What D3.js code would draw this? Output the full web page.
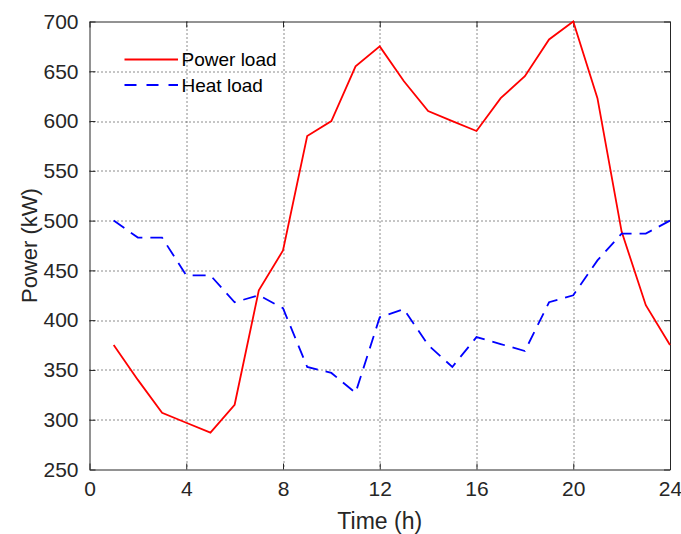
<!DOCTYPE html>
<html>
<head>
<meta charset="utf-8">
<script src="https://cdn.jsdelivr.net/npm/d3@7"></script>
<style>
  html, body { margin: 0; padding: 0; background: #fff; }
  svg { display: block; font-family: "Liberation Sans", Arial, Helvetica, sans-serif; }
</style>
</head>
<body>
<svg id="chart" width="681" height="534"></svg>
<script>
// Hourly load profiles (kW)
const hours = d3.range(1, 25);
const powerLoad = [375, 340, 307, 297, 287, 315, 430, 470, 585, 600, 655, 675,
                   640, 610, 600, 590, 623, 645, 682, 700, 623, 489, 415, 375];
const heatLoad  = [500, 483, 483, 445, 445, 418, 425, 412, 353, 347, 327, 403,
                   411, 375, 353, 383, 376, 369, 418, 425, 460, 487, 487, 500];
const xTicks = [0, 4, 8, 12, 16, 20, 24];
const yTicks = [250, 300, 350, 400, 450, 500, 550, 600, 650, 700];
const seriesNames = ["Power load", "Heat load"];

const svg = d3.select("#chart");
const m = { left: 89.5, top: 21.5, right: 670, bottom: 469.5 };
const W = m.right - m.left, H = m.bottom - m.top;

const x = d3.scaleLinear().domain([0, 24]).range([0, W]);
const y = d3.scaleLinear().domain([250, 700]).range([H, 0]);

const g = svg.append("g").attr("transform", `translate(${m.left},${m.top})`);

// dotted grid
const grid = g.append("g").attr("stroke", "#1a1a1a").attr("stroke-width", 1)
  .attr("stroke-dasharray", "1,3");
grid.selectAll(".gx").data(xTicks.slice(1, -1)).join("line")
  .attr("x1", d => Math.round(x(d)) + 0.5).attr("x2", d => Math.round(x(d)) + 0.5)
  .attr("y1", 0).attr("y2", H);
grid.selectAll(".gy").data(yTicks.slice(1, -1)).join("line")
  .attr("y1", d => Math.round(y(d)) + 0.5).attr("y2", d => Math.round(y(d)) + 0.5)
  .attr("x1", 0).attr("x2", W);

// axes with inward ticks, boxed on all four sides
const tickLen = 6;
const styleAxis = sel => {
  sel.select(".domain").attr("stroke", "#262626").attr("stroke-width", 1);
  sel.selectAll(".tick line").attr("stroke", "#262626");
  sel.selectAll(".tick text").attr("fill", "#262626").attr("font-size", 21);
};
g.append("g").attr("transform", `translate(0,${H})`)
  .call(d3.axisBottom(x).tickValues(xTicks).tickSizeInner(-tickLen).tickSizeOuter(0).tickPadding(12))
  .call(styleAxis);
g.append("g")
  .call(d3.axisTop(x).tickValues(xTicks).tickSizeInner(-tickLen).tickSizeOuter(0).tickFormat(""))
  .call(styleAxis);
g.append("g")
  .call(d3.axisLeft(y).tickValues(yTicks).tickSizeInner(-tickLen).tickSizeOuter(0).tickPadding(11))
  .call(styleAxis);
g.append("g").attr("transform", `translate(${W},0)`)
  .call(d3.axisRight(y).tickValues(yTicks).tickSizeInner(-tickLen).tickSizeOuter(0).tickFormat(""))
  .call(styleAxis);

// series
const line = d3.line().x((d, i) => x(hours[i])).y(d => y(d));
g.append("path").datum(powerLoad).attr("d", line)
  .attr("fill", "none").attr("stroke", "#ff0000").attr("stroke-width", 1.8);
g.append("path").datum(heatLoad).attr("d", line)
  .attr("fill", "none").attr("stroke", "#0000ff").attr("stroke-width", 1.8)
  .attr("stroke-dasharray", "13,8");

// axis titles
svg.append("text").attr("x", m.left + W / 2).attr("y", 529)
  .attr("text-anchor", "middle").attr("font-size", 23).attr("fill", "#262626")
  .text("Time (h)");
svg.append("text").attr("transform", `translate(37,${m.top + H / 2}) rotate(-90)`)
  .attr("text-anchor", "middle").attr("font-size", 22).attr("fill", "#262626")
  .text("Power (kW)");

// legend
const legend = svg.append("g");
const legendRows = [
  { name: seriesNames[0], color: "#ff0000", dash: null, y: 59.5 },
  { name: seriesNames[1], color: "#0000ff", dash: "12,10", y: 85 }
];
legendRows.forEach(r => {
  legend.append("line").attr("x1", 124.5).attr("x2", 178).attr("y1", r.y).attr("y2", r.y)
    .attr("stroke", r.color).attr("stroke-width", 1.8)
    .attr("stroke-dasharray", r.dash);
  legend.append("text").attr("x", 181.5).attr("y", r.y + 6.8)
    .attr("font-size", 19).attr("fill", "#000").text(r.name);
});
</script>
</body>
</html>
